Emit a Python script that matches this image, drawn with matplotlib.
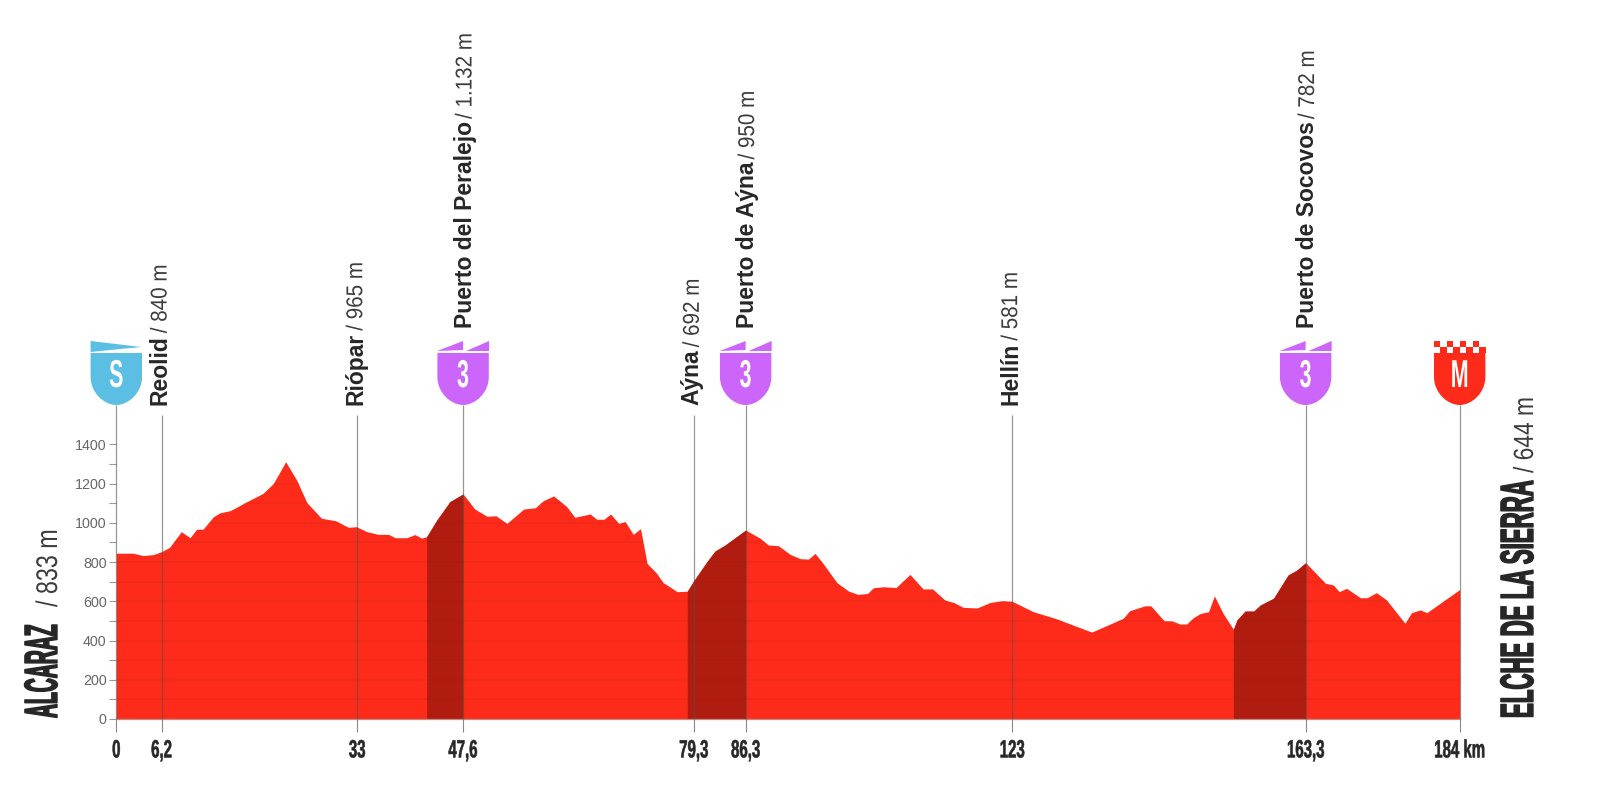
import matplotlib
matplotlib.use('Agg')
import numpy as np
import matplotlib.pyplot as plt
from matplotlib.patches import PathPatch, Polygon, Rectangle
from matplotlib.patheffects import AbstractPathEffect
from matplotlib.path import Path
from matplotlib.transforms import Affine2D

# profile
km = [0, 2.3, 3.7, 5.1, 6.2, 7.3, 8.9, 10.1, 11.0, 11.9, 13.3, 14.2, 15.6, 17.9, 20.1, 21.5, 23.2, 24.7, 26.1, 28.1,
      30.0, 31.8, 32.9, 34.3, 35.9, 37.3, 38.2, 39.8, 40.9, 41.8, 42.5, 43.9, 45.7, 47.5, 49.1, 50.8, 52.0, 53.5,
      55.8, 57.4, 58.5, 59.9, 61.7, 62.8, 64.9, 65.8, 66.8, 67.7, 68.8, 69.7, 70.8, 71.8, 72.7, 74.0, 74.9, 75.8,
      76.8, 78.2, 79.1, 80.9, 82.0, 83.4, 86.2, 88.2, 89.3, 90.7, 92.3, 93.7, 94.8, 95.7, 96.8, 98.7, 100.3, 101.6,
      102.9, 103.7, 105.1, 106.8, 108.7, 110.5, 111.8, 113.5, 114.7, 116.0, 117.9, 119.7, 121.3, 122.7, 125.6,
      128.6, 133.6, 137.9, 138.8, 140.9, 141.7, 143.5, 144.6, 145.7, 146.6, 147.5, 148.5, 149.6, 150.4, 151.6,
      153.0, 153.5, 154.6, 155.8, 156.7, 158.5, 160.5, 161.7, 162.9, 165.6, 166.7, 167.5, 168.5, 170.4, 171.3,
      172.6, 174.0, 176.5, 177.4, 178.6, 179.5, 184]
elev = [845, 845, 833, 838, 853, 875, 955, 924, 967, 968, 1031, 1051, 1062, 1108, 1150, 1200, 1311, 1218, 1103, 1023,
        1011, 977, 980, 955, 941, 941, 924, 924, 940, 922, 929, 1014, 1108, 1147, 1070, 1033, 1036, 997,
        1070, 1077, 1113, 1137, 1082, 1028, 1045, 1018, 1018, 1045, 997, 1006, 941, 970, 793, 743, 695, 674,
        649, 651, 705, 802, 856, 887, 963, 921, 887, 883, 839, 817, 815, 844, 793, 695, 652, 635,
        640, 669, 674, 670, 737, 663, 663, 606, 594, 569, 566, 594, 603, 600, 547,
        513, 443, 513, 552, 577, 577, 501, 500, 484, 484, 516, 538, 547, 627, 538,
        457, 505, 550, 550, 581, 615, 734, 759, 797, 692, 683, 649, 666, 618, 618,
        644, 606, 488, 542, 556, 542, 660]

climbs = [(42.5, 47.5), (78.2, 86.2), (153.0, 162.9)]

tick_km = [0, 6.2, 33, 47.5, 79.1, 86.2, 122.7, 162.9, 184]
tick_labels = ['0', '6,2', '33', '47,6', '79,3', '86,3', '123', '163,3', '184 km']
y_labels = [0, 200, 400, 600, 800, 1000, 1200, 1400]

# name, height text, km of the line, shield letter
places = [('Reolid', '/ 840 m', 6.2, None),
          ('Riópar', '/ 965 m', 33, None),
          ('Puerto del Peralejo', '/ 1.132 m', 47.5, '3'),
          ('Aýna', '/ 692 m', 79.1, None),
          ('Puerto de Aýna', '/ 950 m', 86.2, '3'),
          ('Hellín', '/ 581 m', 122.7, None),
          ('Puerto de Socovos', '/ 782 m', 162.9, '3')]

RED = '#fe2b1a'
DARK = '#b01d10'
PURPLE = '#cc66fa'
BLUE = '#5bbfe3'
INK = '#272727'
FONT = ['Liberation Sans', 'DejaVu Sans']


class Condense(AbstractPathEffect):
    # squeezes a text sideways, there is no condensed font installed
    def __init__(self, sx, centre=False, heavy=0):
        super().__init__()
        self.sx = sx
        self.centre = centre
        self.heavy = heavy

    def draw_path(self, renderer, gc, tpath, affine, rgbFace=None):
        c = 0
        if self.centre:
            box = tpath.get_extents()
            c = (box.x0 + box.x1) / 2
        squeeze = Affine2D().translate(-c, 0).scale(self.sx, 1).translate(c, 0)
        gc0 = renderer.new_gc()
        gc0.copy_properties(gc)
        if self.heavy:
            gc0.set_linewidth(self.heavy)
            gc0.set_foreground(rgbFace)
        renderer.draw_path(gc0, tpath, squeeze + affine, rgbFace)
        gc0.restore()


km = np.array(km)
elev = np.array(elev)

fig = plt.figure(figsize=(16, 8.08), dpi=100)
ax = fig.add_axes([116.3 / 1600, 89 / 808, 1343.4 / 1600, 719 / 808])
ax.set_xlim(0, 184)
ax.set_ylim(0, 719 / 0.1962)
over = fig.add_axes([0, 0, 1, 1])
over.set_xlim(0, 1600)
over.set_ylim(808, 0)
over.axis('off')
over.patch.set_alpha(0)

ax.fill_between(km, elev, 0, color=RED, lw=0, zorder=1)
for start, end in climbs:
    m = (km >= start) & (km <= end)
    ax.fill_between(km[m], elev[m], 0, color=DARK, lw=0, zorder=2)

# faint stripes, only inside the profile
stripes = ax.hlines(np.arange(100, 1400, 100), 0, 184, color='#7a1208', alpha=0.09, lw=1.4, zorder=3)
clip = PathPatch(Path(np.vstack([[0, 0], np.column_stack([km, elev]), [184, 0], [0, 0]])),
                 transform=ax.transData, fc='none', ec='none')
ax.add_patch(clip)
stripes.set_clip_path(clip)

for s in ['top', 'right', 'left']:
    ax.spines[s].set_visible(False)
ax.spines['bottom'].set_color('#c08a85')
ax.spines['bottom'].set_linewidth(0.9)
ax.patch.set_alpha(0)

ax.set_yticks(y_labels)
ax.set_yticklabels([str(v) for v in y_labels], fontsize=10.3, color='#666666', family=FONT)
ax.set_yticks(np.arange(100, 1400, 200), minor=True)
ax.tick_params(axis='y', which='both', length=5, width=0.8, color='#999999', pad=2)
ax.set_xticks(tick_km)
ax.set_xticklabels(tick_labels, fontsize=18, fontweight='bold', color=INK, family=FONT)
ax.tick_params(axis='x', length=9, width=0.8, color='#888888', pad=5)
for lab in ax.get_xticklabels():
    lab.set_path_effects([Condense(0.6, centre=True, heavy=0.4)])

# vertical lines up to the labels
tops = {p[2]: (1600 if p[3] else 1549) for p in places}
tops[0] = 1600
tops[184] = 1600
for k, top in tops.items():
    ax.plot([k, k], [0, top], color='#55504c', lw=0.9, alpha=0.6, zorder=4, solid_capstyle='butt', clip_on=False)


def px(k):
    return ax.transData.transform((k, 0))[0]


def shield(k, color, letter):
    x = px(k)
    w = 25.7
    verts = [(x - w, 353), (x + w, 353), (x + w, 377), (x + w, 393), (x + 12, 405), (x, 405),
             (x - 12, 405), (x - w, 393), (x - w, 377), (x - w, 353)]
    codes = [Path.MOVETO, Path.LINETO, Path.LINETO, Path.CURVE4, Path.CURVE4, Path.CURVE4,
             Path.CURVE4, Path.CURVE4, Path.CURVE4, Path.CLOSEPOLY]
    over.add_patch(PathPatch(Path(verts, codes), fc=color, ec='none', zorder=5))
    t = over.text(x, 377, letter, color='white', fontsize=28, fontweight='bold', family=FONT,
                  ha='center', va='center', zorder=6)
    t.set_path_effects([Condense(0.55, centre=True)])
    return x


x = shield(0, BLUE, 'S')
over.add_patch(Polygon([(x - 25.7, 341), (x + 25, 347), (x - 6, 350), (x - 25.7, 352)], fc=BLUE, ec='none'))

for place in places:
    if place[3]:
        x = shield(place[2], PURPLE, place[3])
        over.add_patch(Polygon([(x - 26, 351), (x, 341), (x, 350)], fc=PURPLE, ec='none'))
        over.add_patch(Polygon([(x + 3, 351), (x + 26, 341), (x + 26, 351)], fc=PURPLE, ec='none'))

x = shield(184, RED, 'M')
for col in range(8):
    cell = x - 26 + col * 6.5
    row_y = 341 if col % 2 == 0 else 347
    over.add_patch(Rectangle((cell, row_y), 6.5, 5.8, fc=RED, ec='none'))

up = dict(rotation=90, rotation_mode='anchor', ha='left', va='baseline')
renderer = fig.canvas.get_renderer()

# rotated names: bold name, then lighter height on top of it
for name, height, k, letter in places:
    x = px(k) + (8.4 if letter else 5)
    y = 328 if letter else 405
    t = over.text(x, y, name, fontsize=16.5, fontweight='bold', color=INK, family=FONT, **up)
    name_top = 808 - t.get_window_extent(renderer).y1
    h = over.text(x, name_top - 2, height, fontsize=16.5, color='#3d3d3d', family=FONT, **up)
    h.set_path_effects([Condense(0.9)])

# start and finish names
t = over.text(57, 718, 'ALCARAZ', fontsize=33.6, fontweight='bold', color=INK, family=FONT, **up)
t.set_path_effects([Condense(0.415, heavy=1.0)])
t = over.text(57, 607, '/ 833 m', fontsize=21.5, color='#3d3d3d', family=FONT, **up)
t.set_path_effects([Condense(0.78)])
t = over.text(1533, 718, 'ELCHE DE LA SIERRA', fontsize=33.6, fontweight='bold', color=INK, family=FONT, **up)
t.set_path_effects([Condense(0.477, heavy=1.0)])
t = over.text(1533, 473, '/ 644 m', fontsize=20, color='#3d3d3d', family=FONT, **up)
t.set_path_effects([Condense(0.82)])

fig.savefig('out.png', dpi=100, facecolor='white')
